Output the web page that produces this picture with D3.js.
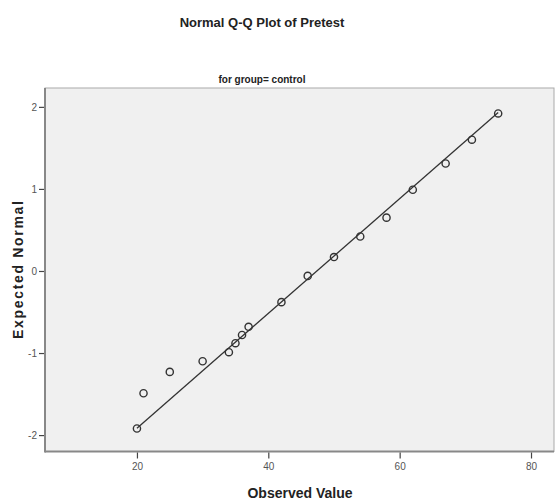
<!DOCTYPE html>
<html>
<head>
<meta charset="utf-8">
<script src="https://cdn.jsdelivr.net/npm/d3@7"></script>
<style>
  body { margin: 0; background: #fff; }
  svg { display: block; }
</style>
</head>
<body>
<div id="chart"></div>
<script>
// observed pretest scores (control group) and their expected normal values
var observed = [20, 21, 25, 30, 34, 35, 36, 37, 42, 46, 50, 54, 58, 62, 67, 71, 75]
var expected = [-1.92, -1.49, -1.23, -1.10, -0.99, -0.88, -0.78, -0.68, -0.38, -0.06, 0.17, 0.42, 0.65, 0.99, 1.31, 1.60, 1.92]
var xTicks = [20, 40, 60, 80]
var yTicks = [-2, -1, 0, 1, 2]
// reference line parameters (sample mean and sd)
var lineMean = 47.4
var lineSd = 14.3

var width = 555
var height = 502
var plotLeft = 45, plotRight = 554, plotTop = 88, plotBottom = 451.5
var narrow = "'Liberation Sans Narrow', 'Arial Narrow', 'Liberation Sans', Arial, sans-serif"

var points = observed.map(function(d, i) {
  return { x: d, y: expected[i] }
})

var svg = d3.select('#chart').append('svg')
  .attr('width', width)
  .attr('height', height)

var x = d3.scaleLinear().domain([6, 83.5]).range([plotLeft, plotRight])
var y = d3.scaleLinear().domain([-2.2, 2.23]).range([plotBottom, plotTop])

// plot background
svg.append('rect')
  .attr('x', plotLeft)
  .attr('y', plotTop)
  .attr('width', plotRight - plotLeft)
  .attr('height', plotBottom - plotTop)
  .attr('fill', '#f0f0f0')
  .attr('stroke', '#aaa')
  .attr('stroke-width', 1)

// left and bottom frame are heavier
svg.append('line')
  .attr('x1', plotLeft).attr('x2', plotLeft)
  .attr('y1', plotTop).attr('y2', plotBottom + 1)
  .attr('stroke', '#888').attr('stroke-width', 2)
svg.append('line')
  .attr('x1', plotLeft).attr('x2', plotRight)
  .attr('y1', plotBottom).attr('y2', plotBottom)
  .attr('stroke', '#888').attr('stroke-width', 2)

// axes (plain hyphen for negatives, like the original)
var plain = function(d) { return String(d) }
var xAxis = svg.append('g')
  .attr('transform', 'translate(0,' + (plotBottom + 1) + ')')
  .call(d3.axisBottom(x).tickValues(xTicks).tickFormat(plain).tickSize(6).tickPadding(4))
var yAxis = svg.append('g')
  .attr('transform', 'translate(' + (plotLeft - 1) + ',0)')
  .call(d3.axisLeft(y).tickValues(yTicks).tickFormat(plain).tickSize(5).tickPadding(2))

xAxis.select('.domain').remove()
yAxis.select('.domain').remove()
svg.selectAll('.tick line').attr('stroke', '#444').attr('stroke-width', 1.2)
svg.selectAll('.tick text')
  .attr('fill', '#555')
  .style('font-family', narrow)
  .style('font-size', '10px')

// normal reference line
var ext = d3.extent(observed)
var lineData = ext.map(function(v) {
  return { x: v, y: (v - lineMean) / lineSd }
})
svg.append('path')
  .datum(lineData)
  .attr('fill', 'none')
  .attr('stroke', '#333')
  .attr('stroke-width', 1.3)
  .attr('d', d3.line()
    .x(function(d) { return x(d.x) })
    .y(function(d) { return y(d.y) }))

// points
svg.append('g')
  .selectAll('circle')
  .data(points)
  .enter().append('circle')
  .attr('cx', function(d) { return x(d.x) })
  .attr('cy', function(d) { return y(d.y) })
  .attr('r', 3.6)
  .attr('fill', 'none')
  .attr('stroke', '#333')
  .attr('stroke-width', 1.4)

// titles
svg.append('text')
  .attr('x', 262)
  .attr('y', 27)
  .attr('text-anchor', 'middle')
  .style('font-family', narrow)
  .style('font-weight', 'bold')
  .style('font-size', '13px')
  .attr('fill', '#222')
  .text('Normal Q-Q Plot of Pretest')

svg.append('text')
  .attr('x', 262)
  .attr('y', 83)
  .attr('text-anchor', 'middle')
  .style('font-family', narrow)
  .style('font-weight', 'bold')
  .style('font-size', '10px')
  .attr('fill', '#222')
  .text('for group= control')

svg.append('text')
  .attr('x', 300)
  .attr('y', 498)
  .attr('text-anchor', 'middle')
  .style('font-family', narrow)
  .style('font-weight', 'bold')
  .style('font-size', '14px')
  .attr('fill', '#222')
  .text('Observed Value')

svg.append('text')
  .attr('transform', 'translate(23,270) rotate(-90)')
  .attr('text-anchor', 'middle')
  .style('font-family', narrow)
  .style('font-weight', 'bold')
  .style('font-size', '14px')
  .attr('textLength', 138)
  .attr('lengthAdjust', 'spacing')
  .attr('fill', '#222')
  .text('Expected Normal')
</script>
</body>
</html>
